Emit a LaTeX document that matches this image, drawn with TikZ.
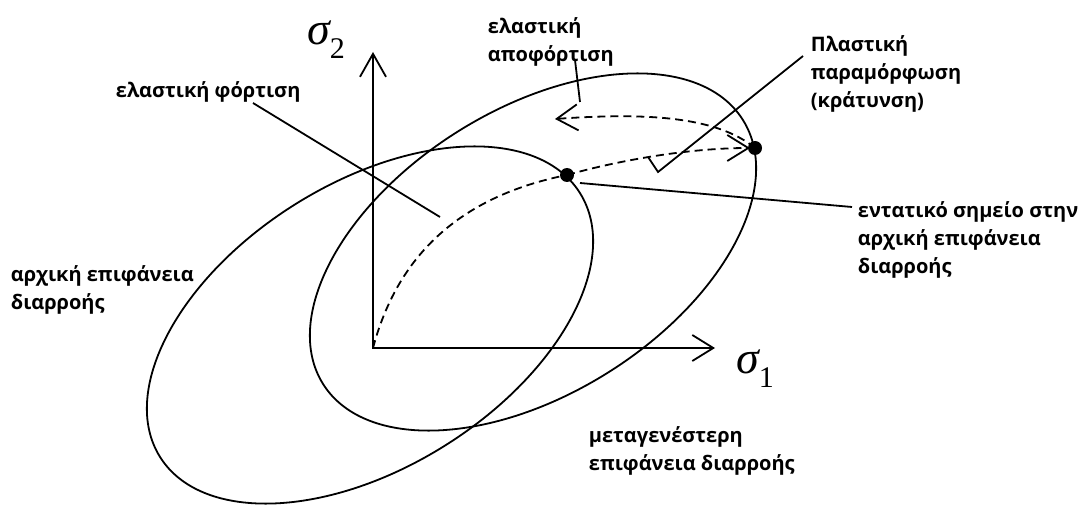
\documentclass[tikz,border=0pt]{standalone}
\usepackage{fontspec}
\setmainfont{Open Sans}
\newfontfamily\tms{Liberation Serif}
\usetikzlibrary{arrows.meta,shapes.geometric}
\newcommand{\lblfont}{\bfseries\fontsize{20}{28}\selectfont}
\newcommand{\sigfont}{\tms\fontsize{46}{46}\selectfont\itshape}
\newcommand{\subfont}{\tms\fontsize{30}{30}\selectfont\upshape}
\begin{document}
\begin{tikzpicture}[x=1pt,y=-1pt,line width=1.8pt,
  every node/.style={inner sep=0pt},
  lbl/.style={font=\lblfont, anchor=base west, align=left},
  dotnode/.style={circle, fill=black, minimum size=14pt},
  surf/.style={draw, ellipse, minimum width=496pt, minimum height=284pt, rotate=32.2, line width=1.8pt},
  barb/.style={-{Straight Barb[length=21pt,width=26pt,line width=1.8pt]}},
  dsh/.style={dash pattern=on 8pt off 5pt}]
\useasboundingbox (0,0) rectangle (1084,505);
% yield surfaces
\node[surf] (init) at (370,325) {};
\node[surf] (subs) at (533,252) {};
% axes
\coordinate (O) at (373,348);
\coordinate (ytip) at (373,52);
\coordinate (xtip) at (715,348);
\draw[{Straight Barb[length=23pt,width=26pt,line width=1.8pt]}-{Straight Barb[length=21pt,width=26pt,line width=1.8pt]}] (ytip) -- (O) -- (xtip);
\node (s2) at (326,40) {\sigfont σ\raisebox{-0.3em}{\subfont 2}};
\node (s1) at (755,369) {\sigfont σ\raisebox{-0.3em}{\subfont 1}};
% stress points
\node[dotnode] (p1) at (567,175) {};
\node[dotnode] (p2) at (755,148) {};
\coordinate (p2in) at (750,148);
\coordinate (unl) at (555,119);
% paths
\draw[dsh] (O) .. controls (397,258) and (457,197) .. (p1.center);
\draw[dsh,barb] (p1.center) .. controls (620,160) and (690,148) .. (p2in);
\draw[dsh,barb] (p2.center) .. controls (715,115) and (640,113) .. (unl);
% labels (anchor = baseline of last line)
\node[lbl] (tload) at (115,98) {ελαστική φόρτιση};
\node[lbl] (tunl) at (487,62) {ελαστική\\αποφόρτιση};
\node[lbl] (tplast) at (810,108) {Πλαστική\\παραμόρφωση\\(κράτυνση)};
\node[lbl] (tpoint) at (857,273) {εντατικό σημείο στην\\αρχική επιφάνεια\\διαρροής};
\node[lbl] (tinit) at (10,309) {αρχική επιφάνεια\\διαρροής};
\node[lbl] (tsubs) at (588,470) {μεταγενέστερη\\επιφάνεια διαρροής};
% leaders
\coordinate (a1) at (253,103);
\coordinate (a2) at (440,217);
\draw (a1) -- (a2);
\coordinate (b1) at (575,60);
\coordinate (b2) at (580,102);
\draw (b1) -- (b2);
\coordinate (c1) at (803,56);
\coordinate (c2) at (658,172);
\coordinate (c3) at (648,157);
\draw (c1) -- (c2) -- (c3);
\coordinate (d1) at (580,183);
\coordinate (d2) at (852,207);
\draw (d1) -- (d2);
\end{tikzpicture}
\end{document}
